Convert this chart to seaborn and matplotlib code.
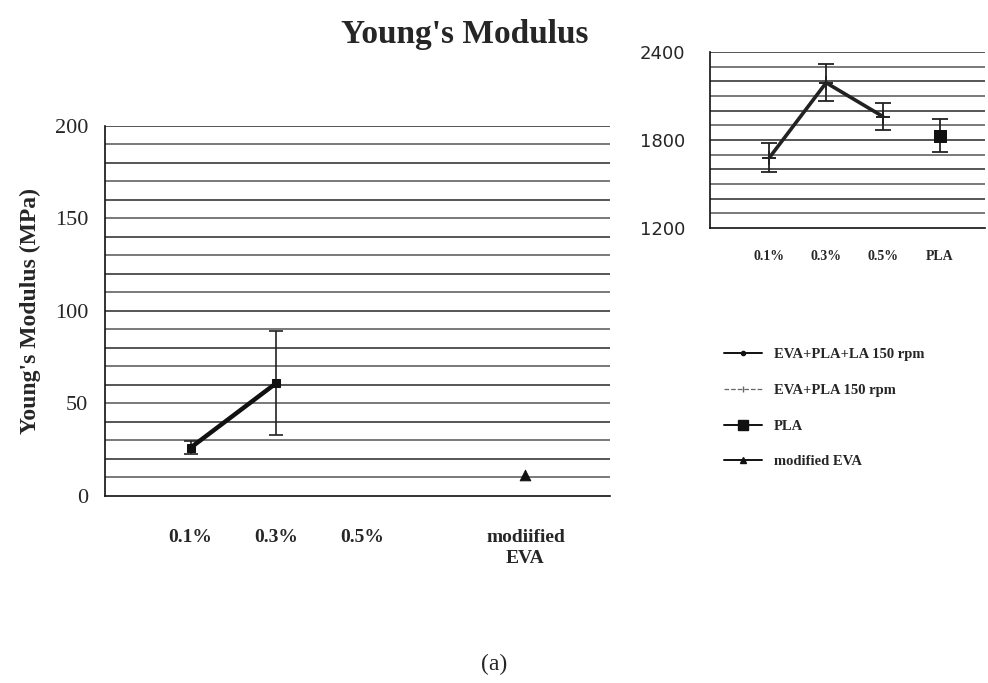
import matplotlib
matplotlib.use("Agg")
import matplotlib.pyplot as plt
import seaborn as sns
import pandas as pd
from matplotlib.lines import Line2D

sns.set_theme(style="white")
plt.rcParams['font.family'] = ['Liberation Serif', 'DejaVu Sans']

# ---- data: left panel (MPa)
left_cats = ["0.1%", "0.3%", "0.5%", "modiified\nEVA"]
la_vals = [26, 61]          # EVA+PLA+LA 150 rpm at 0.1%, 0.3%
la_err = [3.5, 28]
mod_eva_val = [11]
# ---- data: right panel (MPa)
right_cats = ["0.1%", "0.3%", "0.5%", "PLA"]
eva_pla_vals = [1680, 2190, 1960]
eva_pla_err = [100, 125, 95]
pla_val = [1830]
pla_err = [115]

left_pos = [1, 2, 3, 4.9]
right_pos = [1, 2, 3, 4]

fig = plt.figure(figsize=(9.88, 6.83), dpi=100)

# ---------------- left axes
ax = fig.add_axes([0.106, 0.274, 0.511, 0.542])
df_l = pd.DataFrame({"x": left_pos[:2], "y": la_vals})
ax.errorbar(left_pos[:2], la_vals, yerr=la_err, fmt="none", ecolor="#222",
            elinewidth=1.2, capsize=5, capthick=1.2, zorder=3)
sns.lineplot(data=df_l, x="x", y="y", ax=ax, color="#111", linewidth=3.2,
             marker="s", markersize=6, markeredgecolor="#111", zorder=4)
sns.scatterplot(x=[left_pos[3]], y=mod_eva_val, ax=ax, marker="^", s=60,
                color="#111", edgecolor="#111", zorder=4)
ax.set_xlim(0, 5.88)
ax.set_ylim(0, 200)
ax.set_yticks(range(0, 201, 50))
ax.set_yticklabels([str(v) for v in range(0, 201, 50)], fontsize=16)
for v in range(10, 201, 10):
    ax.axhline(v, color="#555", linewidth=1.1 if v % 20 else 1.4, zorder=1)
ax.set_xticks(left_pos)
ax.set_xticklabels(left_cats, fontsize=14, fontweight="bold", linespacing=1.3)
ax.tick_params(axis="x", pad=24, length=0)
ax.tick_params(axis="y", pad=12, length=0)
for lbl in ax.get_xticklabels():
    lbl.set_verticalalignment("top")
ax.set_xlabel("")
ax.set_ylabel("Young's Modulus (MPa)", fontsize=17, fontweight="bold", labelpad=10)
for s in ["top", "right"]:
    ax.spines[s].set_visible(False)
for s in ["left", "bottom"]:
    ax.spines[s].set_color("#111")
    ax.spines[s].set_linewidth(1.2)

# ---------------- right axes
ax2 = fig.add_axes([0.719, 0.666, 0.278, 0.258])
df_r = pd.DataFrame({"x": right_pos[:3], "y": eva_pla_vals})
ax2.errorbar(right_pos[:3], eva_pla_vals, yerr=eva_pla_err, fmt="none",
             ecolor="#222", elinewidth=1.3, capsize=6, capthick=1.3, zorder=3)
sns.lineplot(data=df_r, x="x", y="y", ax=ax2, color="#222", linewidth=2.6,
             marker="+", markersize=10, markeredgewidth=1.4,
             markeredgecolor="#222", zorder=4)
ax2.errorbar(right_pos[3:], pla_val, yerr=pla_err, fmt="none", ecolor="#222",
             elinewidth=1.3, capsize=6, capthick=1.3, zorder=3)
sns.scatterplot(x=right_pos[3:], y=pla_val, ax=ax2, marker="s", s=80,
                color="#111", edgecolor="#111", zorder=4)
ax2.set_xlim(-0.04, 4.8)
ax2.set_ylim(1200, 2400)
ax2.set_yticks([1200, 1800, 2400])
ax2.set_yticklabels(["1200", "1800", "2400"], fontsize=13, family="DejaVu Sans")
for v in range(1300, 2401, 100):
    ax2.axhline(v, color="#555", linewidth=1.1 if v % 200 else 1.4, zorder=1)
ax2.set_xticks(right_pos)
ax2.set_xticklabels(right_cats, fontsize=10, fontweight="bold")
ax2.tick_params(axis="x", pad=16, length=0)
ax2.tick_params(axis="y", pad=18, length=0)
ax2.set_xlabel("")
ax2.set_ylabel("")
for s in ["top", "right"]:
    ax2.spines[s].set_visible(False)
for s in ["left", "bottom"]:
    ax2.spines[s].set_color("#111")
    ax2.spines[s].set_linewidth(1.2)

# ---------------- legend
handles = [
    Line2D([], [], color="#111", linewidth=1.4, marker="o", markersize=3),
    Line2D([], [], color="#666", linewidth=0.9, linestyle="--", marker="|", markersize=5),
    Line2D([], [], color="#111", linewidth=1.4, marker="s", markersize=7),
    Line2D([], [], color="#111", linewidth=1.4, marker="^", markersize=5),
]
labels = ["EVA+PLA+LA 150 rpm", "EVA+PLA 150 rpm", "PLA", "modified EVA"]
fig.legend(handles, labels, loc="upper left", bbox_to_anchor=(0.72, 0.51),
           frameon=False, handlelength=2.6, labelspacing=1.55,
           prop={"weight": "bold", "size": 10.5})

fig.text(0.47, 0.95, "Young's Modulus", ha="center", va="center",
         fontsize=24, fontweight="bold")
fig.text(0.5, 0.027, "(a)", ha="center", va="center", fontsize=17)

fig.savefig("out.png", dpi=100)
